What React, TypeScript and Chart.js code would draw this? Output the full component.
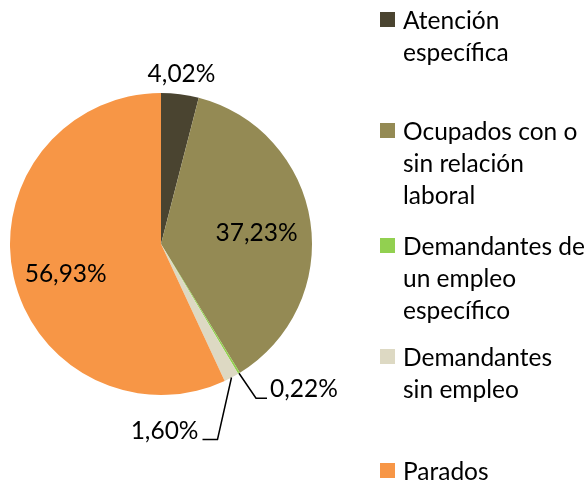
import React, { useEffect, useRef } from "react";
import { Chart, registerables } from "chart.js";

Chart.register(...registerables);

const categories = [
  "Atención específica",
  "Ocupados con o sin relación laboral",
  "Demandantes de un empleo específico",
  "Demandantes sin empleo",
  "Parados",
];
const legendLines = [
  ["Atención", "específica"],
  ["Ocupados con o", "sin relación", "laboral"],
  ["Demandantes de", "un empleo", "específico"],
  ["Demandantes", "sin empleo"],
  ["Parados"],
];
const values = [4.02, 37.23, 0.22, 1.6, 56.93];
const valueLabels = ["4,02%", "37,23%", "0,22%", "1,60%", "56,93%"];
const colors = ["#4a4430", "#948a54", "#92d050", "#ddd9c3", "#f79646"];

const FONT = "Lato, 'Noto Sans', sans-serif";
const FONT_SIZE = 24.5;

// label placement styles per slice
const placement: any[] = [
  { mode: "outside", gap: 12 },
  { mode: "inside", frac: 0.64, dx: 0, dy: 3 },
  { mode: "leader", elbow: [17, 25], tail: 11, side: "right" },
  { mode: "leader", elbow: [-14, 62], tail: -15, side: "left" },
  { mode: "inside", frac: 0.66, dx: 2, dy: 9 },
];

const labelPlugin = {
  id: "pieLabels",
  afterDatasetsDraw(chart: any) {
    const ctx = chart.ctx;
    const meta = chart.getDatasetMeta(0);
    ctx.save();
    ctx.font = `${FONT_SIZE}px ${FONT}`;
    ctx.fillStyle = "#000";
    ctx.strokeStyle = "#000";
    ctx.lineWidth = 1.5;
    meta.data.forEach((arc: any, i: number) => {
      const { x, y, startAngle, endAngle, outerRadius } = arc.getProps(
        ["x", "y", "startAngle", "endAngle", "outerRadius"],
        true
      );
      const mid = (startAngle + endAngle) / 2;
      const p = placement[i];
      const text = valueLabels[i];
      if (p.mode === "inside") {
        const r = outerRadius * p.frac;
        ctx.textAlign = "center";
        ctx.textBaseline = "middle";
        ctx.fillText(text, x + Math.cos(mid) * r + p.dx, y + Math.sin(mid) * r + p.dy);
      } else if (p.mode === "outside") {
        const r = outerRadius + p.gap;
        ctx.textAlign = "center";
        ctx.textBaseline = "bottom";
        ctx.fillText(text, x + Math.cos(mid) * r, y + Math.sin(mid) * r + 4);
      } else {
        const ax = x + Math.cos(mid) * outerRadius;
        const ay = y + Math.sin(mid) * outerRadius;
        const ex = ax + p.elbow[0];
        const ey = ay + p.elbow[1];
        const tx = ex + p.tail;
        ctx.beginPath();
        ctx.moveTo(ax, ay);
        ctx.lineTo(ex, ey);
        ctx.lineTo(tx, ey);
        ctx.stroke();
        ctx.textBaseline = "alphabetic";
        if (p.side === "right") {
          ctx.textAlign = "left";
          ctx.fillText(text, tx + 3, ey - 1);
        } else {
          ctx.textAlign = "right";
          ctx.fillText(text, tx - 4, ey - 1);
        }
      }
    });
    ctx.restore();
  },
};

export default function App() {
  const ref = useRef<HTMLCanvasElement>(null);
  useEffect(() => {
    document.body.style.margin = "0";
    const chart = new Chart(ref.current as HTMLCanvasElement, {
      type: "pie",
      data: {
        labels: categories,
        datasets: [
          {
            data: values,
            backgroundColor: colors,
            borderWidth: 0,
          },
        ],
      },
      options: {
        animation: false,
        responsive: false,
        layout: { padding: { left: 10, right: 275, top: 93, bottom: 89 } },
        plugins: {
          legend: { display: false },
          tooltip: { enabled: false },
        },
      },
      plugins: [labelPlugin],
    });
    return () => chart.destroy();
  }, []);

  const itemTops = [4, 115, 230, 341, 455];
  return (
    <div style={{ position: "relative", width: 587, height: 484, background: "#fff" }}>
      <canvas ref={ref} width={587} height={484} style={{ position: "absolute", left: 0, top: 0 }} />
      {legendLines.map((lines, i) => (
        <div
          key={i}
          style={{
            position: "absolute",
            left: 380,
            top: itemTops[i],
            fontFamily: FONT,
            fontSize: FONT_SIZE,
            lineHeight: "32px",
            color: "#000",
            whiteSpace: "nowrap",
          }}
        >
          <div
            style={{
              position: "absolute",
              left: 0,
              top: 8,
              width: 15,
              height: 15,
              background: colors[i],
            }}
          />
          <div style={{ marginLeft: 23 }}>
            {lines.map((l, j) => (
              <div key={j}>{l}</div>
            ))}
          </div>
        </div>
      ))}
    </div>
  );
}
